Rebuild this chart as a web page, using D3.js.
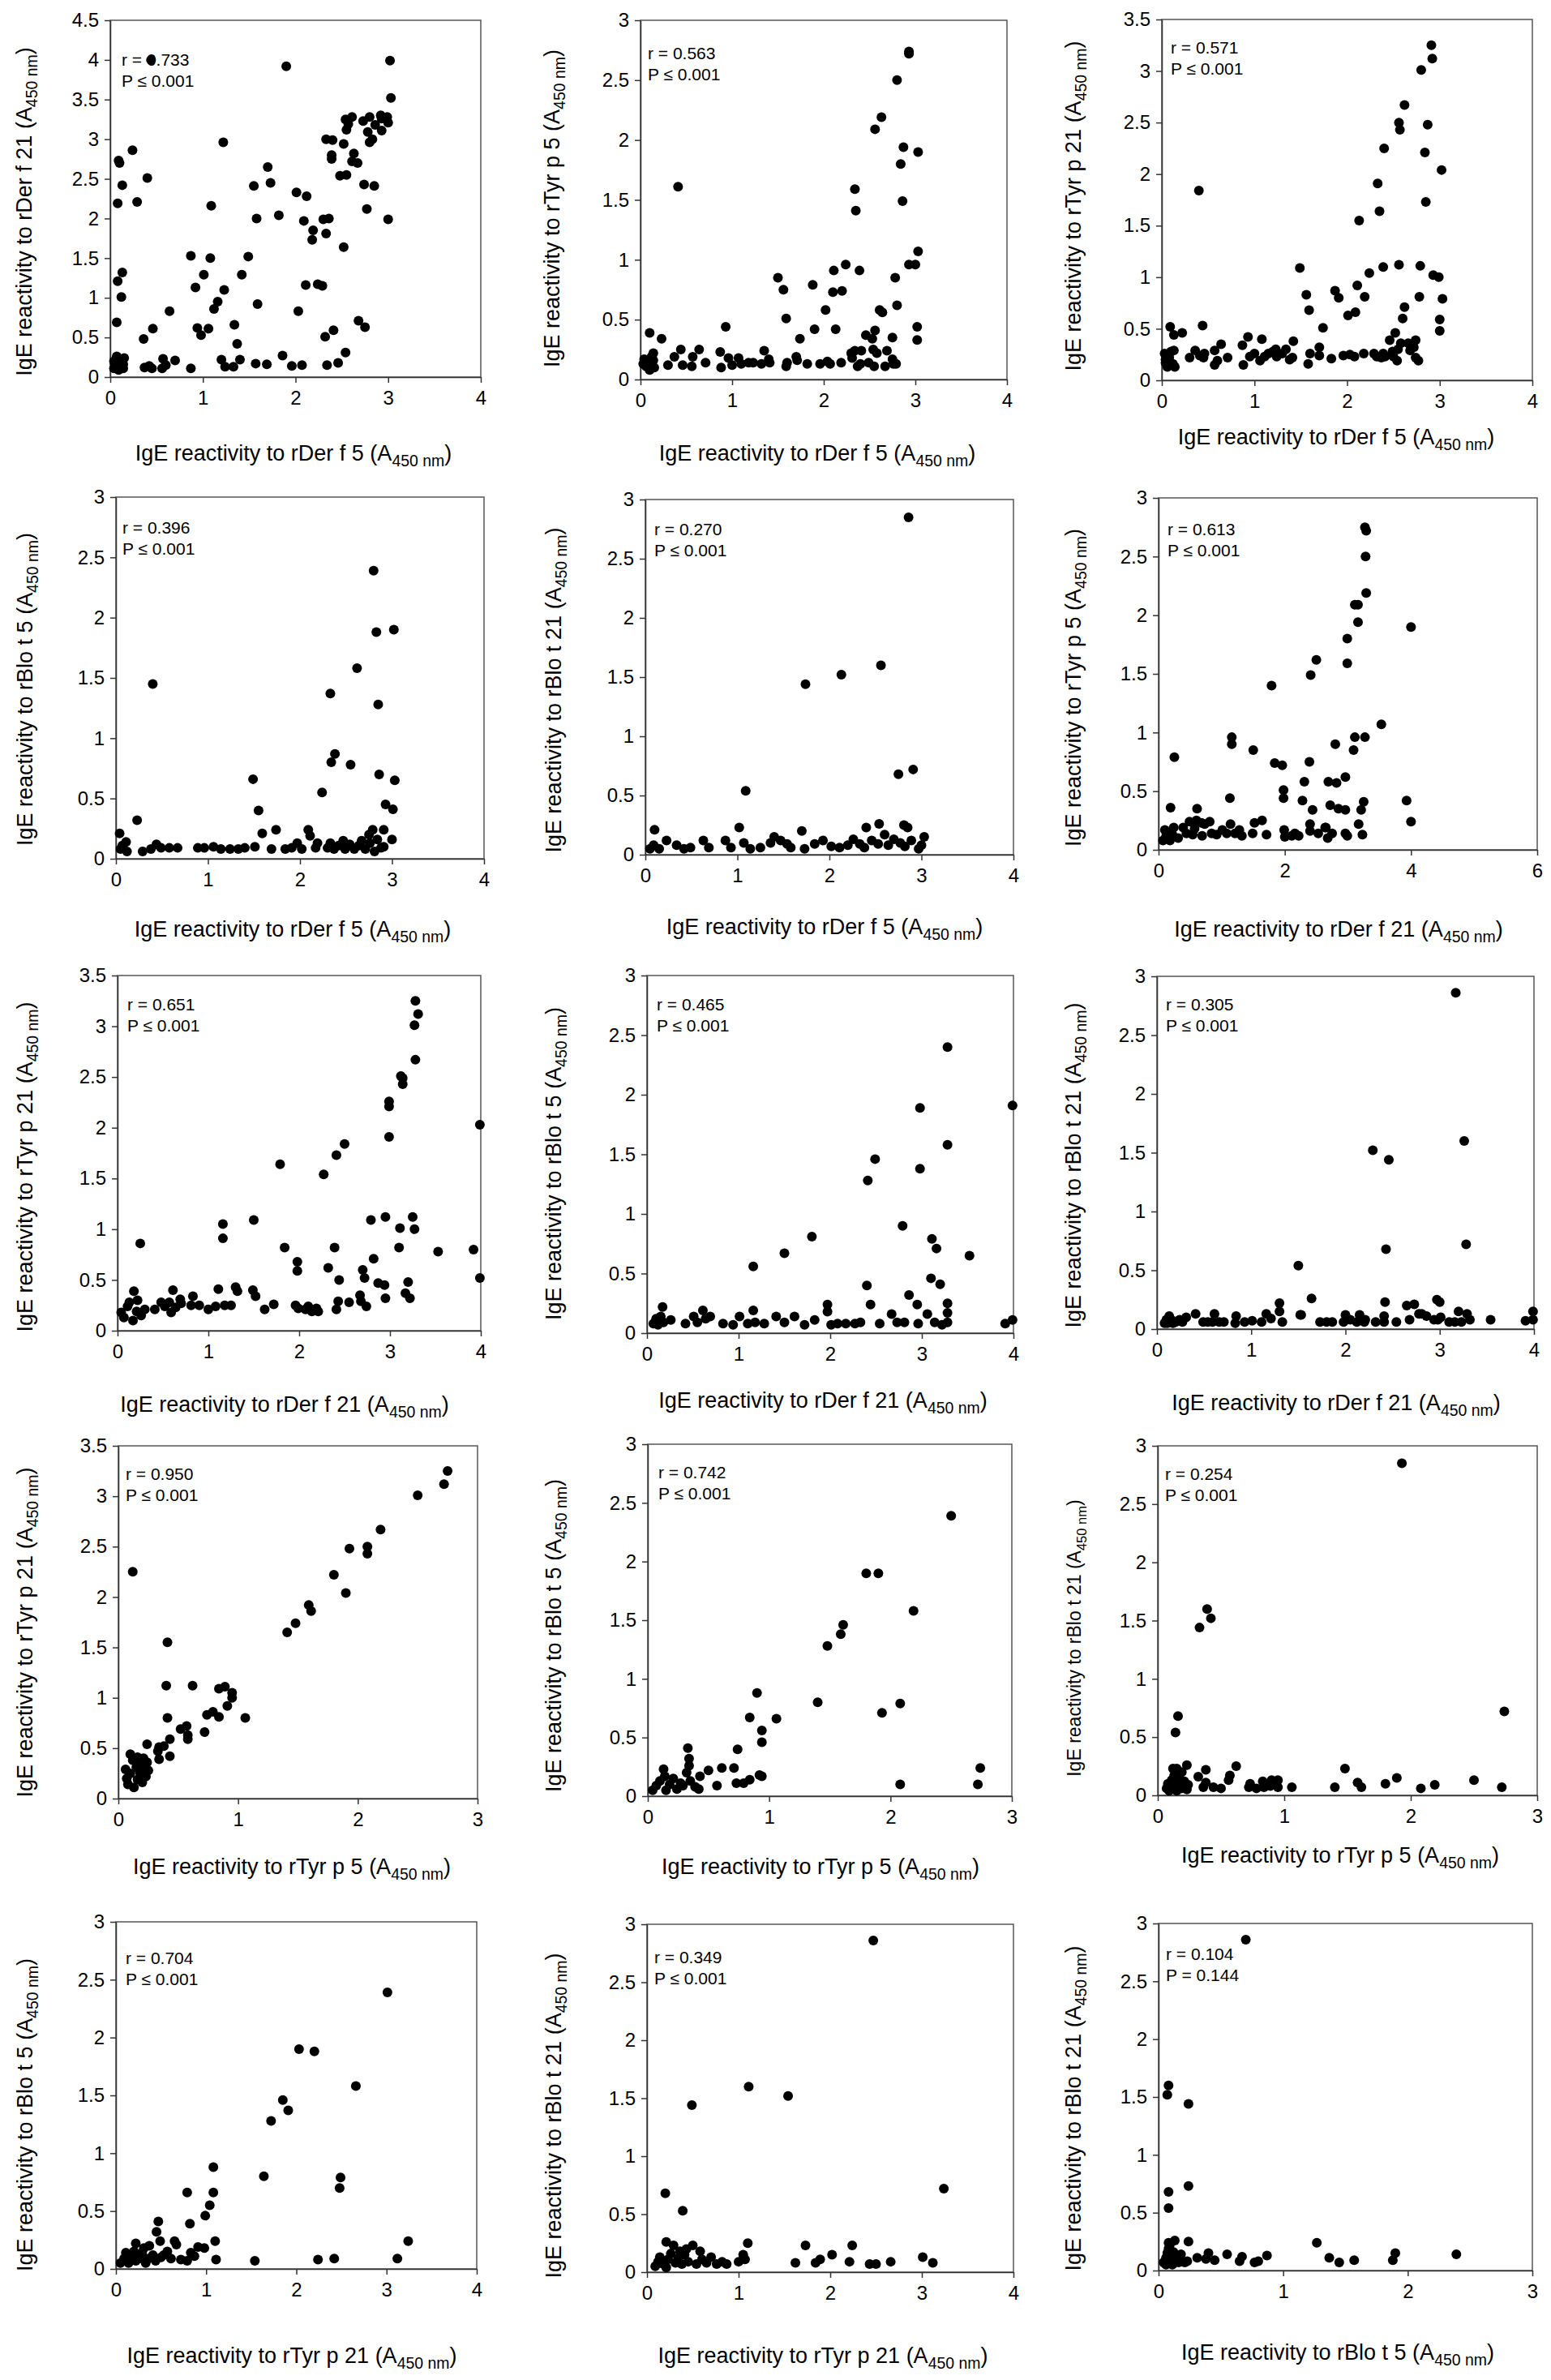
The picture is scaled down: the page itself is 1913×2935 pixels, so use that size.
<!DOCTYPE html>
<html>
<head>
<meta charset="utf-8">
<script src="https://d3js.org/d3.v7.min.js"></script>
<style>
  body { margin: 0; background: #fff; }
  svg { font-family: "Liberation Sans", Arial, sans-serif; }
  .axis path, .axis line { stroke: #333; stroke-width: 1.5; }
  .axis text { font-size: 24px; fill: #000; font-family: "Liberation Sans", Arial, sans-serif; }
  .frame { fill: none; stroke: #555; stroke-width: 1.5; }
  .dot { fill: #000; }
  .title { font-size: 27px; fill: #000; }
  .note { font-size: 21px; fill: #000; }
</style>
</head>
<body>
<svg width="1913" height="2935"></svg>
<script>
// ---- data: one list of [x, y] pairs per panel ----
var derF5_derF21 = [[0.09,2.73],[0.10,2.70],[0.24,2.86],[0.13,2.42],[0.40,2.51],[0.08,2.19],[0.29,2.21],[0.08,1.21],[0.13,1.32],[0.12,1.01],[0.07,0.69],[0.44,4.0],[1.22,2.96],[1.90,3.92],[3.02,3.99],[3.03,3.52],
  [2.54,3.25],[2.61,3.28],[2.57,3.19],[2.55,3.12],[2.73,3.23],[2.80,3.28],[2.78,3.09],[2.86,3.18],[2.92,3.30],[2.93,3.26],[2.99,3.28],[2.93,3.11],[3.00,3.21],[2.80,2.96],[2.83,3.00],[2.33,3.00],[2.40,2.99],[2.52,2.94],[2.39,2.80],[2.39,2.75],[2.63,2.82],[2.61,2.72],[2.67,2.70],[2.48,2.54],[2.55,2.55],[2.74,2.43],[2.85,2.41],[2.77,2.12],[3.00,1.99],
  [1.70,2.65],[1.73,2.45],[1.55,2.41],[1.09,2.16],[1.58,2.00],[1.82,2.04],[2.01,2.33],[2.12,2.28],[2.09,1.97],[2.19,1.85],[2.18,1.73],[2.30,1.99],[2.36,2.00],[2.33,1.81],[2.52,1.64],[0.87,1.53],[1.08,1.50],[1.49,1.52],[1.01,1.29],[1.42,1.29],[0.92,1.13],[1.23,1.10],[1.16,0.95],[1.12,0.86],[2.11,1.16],[2.24,1.17],[2.29,1.15],[1.59,0.92],[2.03,0.83],[0.64,0.83],[1.34,0.66],[0.94,0.62],[1.06,0.61],[0.98,0.53],[1.37,0.42],[0.46,0.61],[0.36,0.48],[2.68,0.71],[2.75,0.63],[2.41,0.59],[2.32,0.51],[2.54,0.31],[2.46,0.18],[2.34,0.15],
  [1.86,0.27],[1.96,0.14],[2.07,0.15],[1.69,0.16],[1.57,0.17],[1.40,0.22],[1.33,0.13],[1.24,0.13],[1.20,0.22],[0.87,0.11],[0.70,0.21],[0.60,0.15],[0.57,0.23],[0.56,0.11],[0.45,0.11],[0.42,0.14],[0.37,0.12],[0.07,0.26],[0.04,0.11],[0.05,0.16],[0.07,0.22],[0.11,0.12],[0.13,0.22],[0.14,0.16],[0.14,0.11],[0.09,0.09],[0.04,0.20],[0.15,0.24]];

var derF5_tyrP5 = [[0.41,1.61],[2.93,2.74],[2.93,2.72],[2.80,2.50],[2.63,2.19],[2.56,2.09],[2.87,1.94],[3.03,1.90],[2.84,1.80],[2.34,1.59],[2.35,1.41],[2.86,1.49],[3.03,1.07],[2.93,0.96],[3.00,0.96],[2.24,0.96],[2.39,0.91],[2.11,0.91],[2.10,0.73],[2.20,0.74],[1.50,0.85],[1.56,0.75],[1.88,0.79],[2.78,0.85],[2.80,0.62],[2.02,0.58],[2.61,0.58],[2.64,0.56],[1.59,0.51],[0.93,0.44],[1.90,0.42],[2.13,0.42],[3.02,0.44],[3.02,0.33],[0.10,0.39],[0.23,0.34],[1.74,0.34],[2.46,0.37],[2.56,0.41],[2.53,0.34],[2.75,0.35],
  [0.87,0.23],[0.44,0.25],[0.64,0.25],[1.35,0.24],[0.37,0.19],[0.57,0.19],[0.30,0.12],[0.46,0.12],[0.56,0.11],[0.71,0.14],[0.88,0.10],[0.96,0.18],[1.00,0.12],[1.07,0.18],[1.10,0.13],[1.18,0.14],[1.23,0.14],[1.32,0.13],[1.40,0.17],[1.41,0.14],[1.60,0.14],[1.59,0.11],[1.70,0.19],[1.71,0.16],[1.82,0.13],[1.96,0.13],[2.04,0.15],[2.07,0.13],[2.19,0.14],[2.30,0.22],[2.34,0.24],[2.41,0.24],[2.31,0.18],[2.37,0.11],[2.40,0.13],[2.49,0.14],[2.54,0.25],[2.58,0.22],[2.55,0.11],[2.69,0.24],[2.67,0.11],[2.75,0.17],[2.79,0.13],[2.76,0.13],
  [0.04,0.17],[0.06,0.11],[0.08,0.14],[0.12,0.19],[0.14,0.22],[0.15,0.10],[0.10,0.08],[0.03,0.13],[0.14,0.16]];

var derF5_tyrP21 = [[0.40,1.84],[2.91,3.25],[2.92,3.12],[2.80,3.01],[2.62,2.67],[2.56,2.50],[2.57,2.43],[2.87,2.48],[2.40,2.25],[2.84,2.21],[3.02,2.04],[2.33,1.91],[2.35,1.64],[2.85,1.73],[2.13,1.55],[1.49,1.09],[2.39,1.10],[2.56,1.12],[2.79,1.11],[2.24,1.04],[2.93,1.02],[2.99,1.00],[2.11,0.92],[1.87,0.87],[1.91,0.80],[2.19,0.81],[2.78,0.81],[3.03,0.79],[1.56,0.83],[1.59,0.68],[2.09,0.66],[2.01,0.63],[2.62,0.71],[2.60,0.60],[3.00,0.59],[3.00,0.48],[1.74,0.51],[0.09,0.52],[0.44,0.53],[0.22,0.46],[0.13,0.44],[0.93,0.42],[1.08,0.40],[1.42,0.38],[2.52,0.46],[2.46,0.39],[2.58,0.36],[2.66,0.36],[2.74,0.39],[0.87,0.34],[0.64,0.35],[1.70,0.32],
  [0.30,0.22],[0.36,0.29],[0.41,0.24],[0.46,0.26],[0.45,0.22],[0.57,0.29],[0.57,0.15],[0.60,0.19],[0.71,0.22],[0.88,0.15],[0.95,0.23],[1.00,0.26],[1.06,0.19],[1.11,0.23],[1.15,0.26],[1.20,0.28],[1.23,0.30],[1.24,0.23],[1.30,0.26],[1.34,0.30],[1.38,0.20],[1.41,0.22],[1.60,0.26],[1.58,0.16],[1.70,0.24],[1.83,0.21],[1.96,0.24],[2.03,0.25],[2.08,0.23],[2.18,0.26],[2.29,0.26],[2.32,0.23],[2.37,0.22],[2.39,0.26],[2.41,0.23],[2.49,0.28],[2.50,0.23],[2.54,0.19],[2.55,0.30],[2.69,0.31],[2.68,0.29],[2.72,0.32],[2.74,0.22],[2.77,0.19],[2.70,0.35],
  [0.03,0.26],[0.04,0.17],[0.06,0.13],[0.08,0.22],[0.10,0.28],[0.12,0.16],[0.13,0.29],[0.14,0.13],[0.04,0.20],[0.07,0.24]];

var derF5_bloT5 = [[0.40,1.45],[2.80,2.39],[2.83,1.88],[3.02,1.90],[2.62,1.58],[2.33,1.37],[2.85,1.28],[2.38,0.87],[2.34,0.80],[2.55,0.78],[2.86,0.70],[3.03,0.65],[1.49,0.66],[2.24,0.55],[1.55,0.40],[2.93,0.45],[3.01,0.41],[0.23,0.32],[0.04,0.21],[1.59,0.21],[1.74,0.24],[2.09,0.24],[2.11,0.19],[2.79,0.24],[2.91,0.24],[2.75,0.20],[3.00,0.16],[2.91,0.10],
  [0.05,0.08],[0.07,0.11],[0.11,0.14],[0.12,0.06],[0.29,0.06],[0.38,0.08],[0.44,0.12],[0.49,0.09],[0.58,0.09],[0.67,0.09],[0.89,0.09],[0.96,0.09],[1.06,0.10],[1.14,0.08],[1.24,0.08],[1.33,0.08],[1.40,0.09],[1.51,0.10],[1.69,0.08],[1.84,0.08],[1.91,0.09],[1.97,0.13],[2.02,0.08],[2.17,0.09],[2.19,0.13],[2.30,0.09],[2.33,0.13],[2.37,0.08],[2.42,0.11],[2.47,0.15],[2.49,0.08],[2.54,0.12],[2.59,0.08],[2.64,0.11],[2.67,0.15],[2.71,0.08],[2.76,0.13],[2.81,0.06],[2.84,0.16],[2.88,0.09]];

var derF5_bloT21 = [[2.86,2.85],[1.74,1.44],[2.13,1.52],[2.56,1.60],[2.91,0.72],[2.75,0.68],[1.09,0.54],[0.10,0.21],[1.02,0.23],[1.70,0.20],[2.40,0.23],[2.54,0.26],[2.81,0.25],[2.85,0.23],[3.03,0.15],
  [0.05,0.05],[0.09,0.08],[0.15,0.05],[0.23,0.12],[0.34,0.08],[0.42,0.05],[0.49,0.06],[0.63,0.12],[0.69,0.06],[0.87,0.12],[0.93,0.06],[1.07,0.10],[1.14,0.05],[1.25,0.06],[1.36,0.10],[1.40,0.15],[1.47,0.12],[1.54,0.09],[1.58,0.06],[1.73,0.05],[1.84,0.09],[1.93,0.12],[2.02,0.07],[2.11,0.06],[2.20,0.08],[2.26,0.13],[2.33,0.09],[2.38,0.06],[2.46,0.12],[2.53,0.09],[2.60,0.17],[2.64,0.08],[2.70,0.13],[2.77,0.10],[2.82,0.07],[2.89,0.12],[3.00,0.08],[2.97,0.05]];

var derF21_tyrP5 = [[3.27,2.75],[3.29,2.72],[3.28,2.50],[3.29,2.19],[3.11,2.09],[3.16,2.09],[3.16,1.94],[4.00,1.90],[2.99,1.80],[2.50,1.62],[2.99,1.59],[2.41,1.49],[1.79,1.40],[3.53,1.07],[1.16,0.96],[1.16,0.90],[3.11,0.96],[3.27,0.96],[2.80,0.90],[3.09,0.85],[1.50,0.85],[0.25,0.79],[1.84,0.74],[1.96,0.72],[2.39,0.75],[2.96,0.62],[2.31,0.58],[2.69,0.58],[2.82,0.57],[1.98,0.51],[1.13,0.44],[1.98,0.44],[2.28,0.42],[3.93,0.42],[3.25,0.41],[0.19,0.36],[0.61,0.35],[2.72,0.38],[2.44,0.34],[2.85,0.35],[2.96,0.34],[3.21,0.34],[4.00,0.24],[1.52,0.23],[1.64,0.25],[0.81,0.24],[0.49,0.24],[0.60,0.25],[0.68,0.23],[2.40,0.22],[2.64,0.19],[3.17,0.22],[1.14,0.22],
  [0.07,0.08],[0.10,0.17],[0.12,0.12],[0.15,0.14],[0.18,0.08],[0.22,0.13],[0.24,0.19],[0.31,0.10],[0.39,0.19],[0.44,0.14],[0.54,0.13],[0.57,0.18],[0.69,0.12],[0.73,0.22],[0.84,0.14],[0.92,0.13],[1.01,0.17],[1.08,0.14],[1.21,0.14],[1.28,0.17],[1.32,0.12],[1.49,0.14],[1.71,0.13],[1.99,0.17],[2.00,0.11],[2.11,0.12],[2.16,0.14],[2.22,0.12],[2.40,0.16],[2.53,0.14],[2.65,0.19],[2.68,0.10],[2.75,0.14],[2.96,0.14],[2.99,0.12],[3.23,0.13]];

var derF21_tyrP21 = [[3.28,3.25],[3.31,3.12],[3.27,3.01],[3.28,2.67],[3.12,2.51],[3.14,2.49],[3.14,2.43],[2.99,2.26],[2.99,2.21],[2.99,1.91],[3.99,2.03],[2.50,1.84],[2.41,1.73],[1.79,1.64],[2.27,1.54],[1.50,1.09],[2.79,1.09],[2.95,1.12],[3.25,1.12],[1.16,1.05],[1.16,0.91],[3.11,1.01],[3.27,1.00],[0.25,0.86],[1.84,0.82],[2.39,0.82],[3.10,0.82],[3.53,0.78],[3.92,0.80],[2.82,0.71],[1.98,0.68],[1.98,0.59],[2.32,0.62],[2.70,0.60],[2.72,0.52],[2.44,0.50],[3.99,0.52],[2.87,0.47],[2.94,0.45],[3.20,0.48],[1.11,0.41],[1.30,0.43],[1.32,0.39],[1.49,0.40],[1.52,0.34],[0.18,0.39],[0.61,0.40],[0.83,0.34],[2.95,0.32],[3.17,0.37],[3.22,0.32],[2.67,0.35],[2.43,0.29],[2.55,0.28],[2.68,0.29],[2.74,0.24],[2.41,0.21],
  [0.04,0.18],[0.07,0.13],[0.11,0.24],[0.13,0.28],[0.17,0.10],[0.21,0.19],[0.22,0.30],[0.26,0.15],[0.30,0.21],[0.41,0.21],[0.48,0.28],[0.52,0.24],[0.57,0.28],[0.59,0.18],[0.64,0.23],[0.69,0.31],[0.70,0.27],[0.81,0.25],[0.90,0.25],[1.00,0.21],[1.08,0.24],[1.18,0.25],[1.25,0.25],[1.62,0.21],[1.72,0.26],[1.96,0.25],[1.99,0.22],[2.07,0.21],[2.14,0.19],[2.19,0.22],[2.21,0.19],[2.10,0.24]];

var derF21_bloT5 = [[3.28,2.40],[3.99,1.91],[2.98,1.89],[3.28,1.58],[2.49,1.46],[2.98,1.38],[2.41,1.28],[2.79,0.90],[3.11,0.79],[3.16,0.71],[1.80,0.81],[1.50,0.67],[3.52,0.65],[1.16,0.56],[3.10,0.46],[3.20,0.41],[2.40,0.40],[2.86,0.32],[2.95,0.24],[2.44,0.24],[3.28,0.25],[3.28,0.17],[1.97,0.24],[1.97,0.18],[1.16,0.19],[0.17,0.22],
  [0.07,0.08],[0.10,0.12],[0.12,0.07],[0.15,0.14],[0.18,0.09],[0.26,0.11],[0.42,0.08],[0.51,0.14],[0.55,0.09],[0.61,0.19],[0.64,0.12],[0.69,0.14],[0.83,0.08],[0.94,0.07],[1.01,0.14],[1.10,0.08],[1.18,0.09],[1.28,0.08],[1.41,0.14],[1.50,0.09],[1.61,0.14],[1.72,0.07],[1.83,0.11],[2.01,0.07],[2.08,0.08],[2.17,0.08],[2.27,0.08],[2.33,0.09],[2.54,0.08],[2.67,0.16],[2.73,0.09],[2.81,0.09],[2.96,0.08],[3.06,0.16],[3.14,0.09],[3.22,0.07],[3.28,0.09],[3.91,0.08],[3.99,0.11]];

var derF21_bloT21 = [[3.17,2.86],[3.26,1.60],[2.29,1.52],[2.46,1.44],[2.43,0.68],[3.28,0.72],[1.50,0.54],[1.64,0.26],[1.30,0.22],[1.30,0.15],[2.42,0.23],[2.65,0.20],[2.73,0.21],[2.97,0.25],[3.00,0.23],[3.20,0.15],[3.29,0.13],[3.99,0.15],[1.52,0.12],[1.16,0.13],[0.41,0.13],[0.61,0.13],[0.31,0.10],[0.13,0.11],
  [0.08,0.05],[0.10,0.08],[0.11,0.05],[0.15,0.08],[0.17,0.05],[0.20,0.06],[0.24,0.08],[0.27,0.06],[0.49,0.06],[0.54,0.06],[0.59,0.06],[0.66,0.06],[0.71,0.06],[0.83,0.05],[0.84,0.11],[0.93,0.06],[1.01,0.07],[1.11,0.06],[1.21,0.09],[1.33,0.06],[1.53,0.12],[1.73,0.06],[1.80,0.06],[1.86,0.06],[1.98,0.06],[2.00,0.12],[2.05,0.08],[2.12,0.06],[2.15,0.12],[2.20,0.06],[2.21,0.08],[2.32,0.06],[2.41,0.06],[2.41,0.11],[2.54,0.06],[2.68,0.08],[2.78,0.13],[2.81,0.13],[2.86,0.11],[2.94,0.08],[2.98,0.08],[3.01,0.10],[3.10,0.06],[3.16,0.06],[3.23,0.06],[3.32,0.08],[3.54,0.08],[3.91,0.07],[3.99,0.08]];

var tyrP5_tyrP21 = [[2.75,3.25],[2.72,3.12],[2.50,3.01],[2.19,2.67],[1.93,2.48],[2.08,2.50],[2.08,2.43],[1.80,2.22],[1.90,2.04],[1.59,1.92],[1.61,1.86],[1.48,1.74],[1.41,1.65],[0.12,2.25],[0.41,1.55],[0.40,1.12],[0.62,1.12],[0.84,1.09],[0.89,1.11],[0.95,1.05],[0.95,1.00],[0.91,0.92],[0.79,0.86],[0.74,0.83],[0.84,0.81],[1.06,0.80],[0.41,0.80],[0.57,0.72],[0.52,0.69],[0.72,0.66],[0.58,0.63],[0.58,0.59],[0.43,0.59],[0.24,0.54],[0.34,0.51],[0.38,0.52],[0.33,0.47],[0.34,0.39],[0.43,0.42],
  [0.07,0.20],[0.08,0.14],[0.10,0.25],[0.10,0.44],[0.12,0.38],[0.13,0.11],[0.15,0.31],[0.16,0.19],[0.17,0.35],[0.18,0.26],[0.20,0.16],[0.21,0.40],[0.22,0.32],[0.23,0.22],[0.24,0.36],[0.25,0.28],[0.06,0.29],[0.16,0.41]];

var tyrP5_bloT5 = [[2.50,2.39],[1.80,1.90],[1.90,1.90],[2.19,1.58],[1.61,1.46],[1.59,1.38],[1.48,1.28],[0.90,0.88],[1.40,0.80],[2.08,0.79],[1.93,0.71],[0.84,0.67],[1.06,0.66],[0.94,0.56],[0.94,0.46],[0.74,0.40],[0.33,0.41],[0.34,0.32],[2.74,0.24],[2.08,0.10],[2.72,0.10],[0.61,0.24],[0.71,0.24],[0.50,0.22],[0.34,0.26],[0.92,0.18],[0.94,0.17],[0.84,0.14],[0.43,0.17],[0.57,0.09],[0.73,0.11],[0.79,0.11],
  [0.04,0.05],[0.07,0.09],[0.10,0.13],[0.13,0.23],[0.14,0.17],[0.15,0.05],[0.18,0.10],[0.21,0.15],[0.24,0.06],[0.27,0.11],[0.29,0.09],[0.32,0.20],[0.35,0.13],[0.39,0.08],[0.42,0.06]];

var tyrP5_bloT21 = [[1.93,2.85],[0.39,1.60],[0.42,1.52],[0.33,1.44],[0.16,0.68],[0.14,0.54],[2.74,0.72],[1.48,0.23],[1.89,0.15],[2.50,0.13],[1.80,0.10],[2.19,0.09],[2.08,0.06],[2.72,0.07],[1.40,0.07],[1.06,0.07],[1.58,0.11],[1.61,0.07],[0.62,0.25],[0.23,0.26],[0.38,0.22],[0.57,0.17],[0.56,0.13],[0.32,0.16],[0.12,0.23],[0.15,0.23],[0.19,0.20],[0.73,0.10],[0.72,0.07],[0.83,0.12],[0.90,0.13],[0.95,0.13],[0.95,0.07],[0.84,0.07],[0.78,0.06],[0.89,0.08],[0.50,0.06],[0.44,0.07],[0.36,0.07],[0.38,0.11],
  [0.07,0.06],[0.08,0.10],[0.09,0.04],[0.11,0.13],[0.12,0.07],[0.13,0.17],[0.15,0.04],[0.16,0.11],[0.17,0.15],[0.19,0.06],[0.20,0.10],[0.21,0.12],[0.23,0.05],[0.24,0.09]];

var tyrP21_bloT5 = [[3.01,2.39],[2.03,1.90],[2.20,1.88],[2.66,1.58],[1.85,1.46],[1.91,1.37],[1.72,1.28],[1.08,0.88],[1.64,0.80],[2.49,0.79],[2.48,0.70],[0.79,0.66],[1.08,0.66],[1.04,0.55],[0.99,0.46],[0.82,0.39],[0.47,0.41],[0.45,0.32],[0.49,0.24],[0.65,0.24],[0.67,0.21],[1.10,0.24],[3.24,0.24],[3.12,0.09],[2.42,0.09],[2.24,0.08],[1.54,0.07],[1.11,0.08],[0.91,0.19],[0.98,0.18],[0.22,0.22],[0.37,0.20],[0.57,0.15],[0.83,0.14],[0.87,0.11],[0.72,0.08],[0.79,0.07],[0.61,0.09],
  [0.05,0.05],[0.09,0.09],[0.11,0.14],[0.14,0.05],[0.16,0.11],[0.20,0.15],[0.22,0.07],[0.26,0.09],[0.29,0.14],[0.31,0.18],[0.33,0.05],[0.36,0.09],[0.41,0.12],[0.44,0.07],[0.50,0.10],[0.53,0.12]];

var tyrP21_bloT21 = [[2.47,2.86],[1.11,1.60],[1.54,1.52],[0.49,1.44],[0.20,0.68],[0.39,0.53],[3.24,0.72],[1.10,0.25],[1.73,0.23],[2.24,0.23],[2.02,0.15],[1.89,0.11],[1.84,0.08],[1.62,0.08],[2.21,0.09],[2.66,0.09],[2.43,0.07],[2.50,0.07],[3.01,0.13],[3.12,0.08],[0.21,0.26],[0.29,0.23],[0.50,0.23],[0.58,0.18],[0.70,0.13],[1.05,0.15],[1.07,0.11],[1.00,0.09],[0.82,0.09],[0.87,0.07],[0.76,0.07],[0.65,0.08],
  [0.09,0.05],[0.12,0.09],[0.14,0.13],[0.18,0.07],[0.21,0.04],[0.23,0.11],[0.26,0.16],[0.31,0.08],[0.34,0.12],[0.38,0.07],[0.41,0.15],[0.45,0.09],[0.54,0.07],[0.60,0.11],[0.36,0.18],[0.43,0.20]];

var bloT5_bloT21 = [[0.70,2.86],[0.08,1.60],[0.07,1.52],[0.24,1.44],[0.08,0.68],[0.24,0.73],[0.08,0.54],[1.27,0.24],[0.24,0.25],[0.13,0.26],[0.08,0.24],[0.40,0.15],[0.55,0.14],[0.67,0.12],[0.87,0.13],[1.90,0.15],[2.39,0.14],[1.37,0.11],[0.31,0.11],[0.38,0.10],[0.45,0.09],[0.65,0.08],[0.77,0.07],[0.80,0.08],[1.45,0.07],[1.57,0.09],[1.88,0.09],[0.18,0.14],[0.23,0.08],[0.21,0.07],
  [0.04,0.07],[0.06,0.11],[0.06,0.05],[0.07,0.15],[0.08,0.19],[0.09,0.09],[0.10,0.12],[0.11,0.05],[0.12,0.16],[0.13,0.08],[0.14,0.11],[0.16,0.07],[0.17,0.10],[0.09,0.22]];

var panelPoints = [derF5_derF21, derF5_tyrP5, derF5_tyrP21, derF5_bloT5, derF5_bloT21, derF21_tyrP5,
                   derF21_tyrP21, derF21_bloT5, derF21_bloT21, tyrP5_tyrP21, tyrP5_bloT5, tyrP5_bloT21,
                   tyrP21_bloT5, tyrP21_bloT21, bloT5_bloT21];
var xAllergens = ["rDer f 5", "rDer f 5", "rDer f 5", "rDer f 5", "rDer f 5", "rDer f 21",
                  "rDer f 21", "rDer f 21", "rDer f 21", "rTyr p 5", "rTyr p 5", "rTyr p 5",
                  "rTyr p 21", "rTyr p 21", "rBlo t 5"];
var yAllergens = ["rDer f 21", "rTyr p 5", "rTyr p 21", "rBlo t 5", "rBlo t 21", "rTyr p 5",
                  "rTyr p 21", "rBlo t 5", "rBlo t 21", "rTyr p 21", "rBlo t 5", "rBlo t 21",
                  "rBlo t 5", "rBlo t 21", "rBlo t 21"];
var rValues = ["0.733", "0.563", "0.571", "0.396", "0.270", "0.613", "0.651", "0.465", "0.305",
               "0.950", "0.742", "0.254", "0.704", "0.349", "0.104"];
var pValues = ["P \u2264 0.001", "P \u2264 0.001", "P \u2264 0.001", "P \u2264 0.001", "P \u2264 0.001",
               "P \u2264 0.001", "P \u2264 0.001", "P \u2264 0.001", "P \u2264 0.001", "P \u2264 0.001",
               "P \u2264 0.001", "P \u2264 0.001", "P \u2264 0.001", "P \u2264 0.001", "P = 0.144"];
// axis ranges and tick steps
var xMax  = [4, 4, 4, 4, 4, 6, 4, 4, 4, 3, 3, 3, 4, 4, 3];
var xStep = [1, 1, 1, 1, 1, 2, 1, 1, 1, 1, 1, 1, 1, 1, 1];
var yMax  = [4.5, 3, 3.5, 3, 3, 3, 3.5, 3, 3, 3.5, 3, 3, 3, 3, 3];
var yStep = 0.5;

// ---- layout (pixels): plot box, title anchors, note anchor ----
// [left, right, top, bottom, xTitleX, xTitleY, yTitleX, yTitleY, noteX, noteY]
var boxes = [
  [136, 593, 25, 465,   362, 568,   39, 261,   150, 81],
  [790, 1242, 25, 468,  1008, 568,  690, 257,  799, 73],
  [1433, 1890, 24, 469, 1648, 548,  1333, 254, 1444, 66],
  [143, 597, 613, 1059, 361, 1155,  40, 850,   151, 658],
  [796, 1250, 616, 1054, 1017, 1152, 692, 851, 807, 660],
  [1429, 1896, 614, 1048, 1651, 1155, 1333, 848, 1440, 660],
  [145, 593, 1203, 1641, 351, 1741, 40, 1439,  157, 1246],
  [798, 1250, 1203, 1644, 1015, 1736, 692, 1435, 810, 1246],
  [1427, 1892, 1204, 1639, 1648, 1739, 1333, 1437, 1438, 1246],
  [146, 589, 1783, 2218, 360, 2311, 40, 2013,  155, 1825],
  [799, 1248, 1781, 2215, 1012, 2311, 692, 2017, 812, 1823],
  [1428, 1896, 1783, 2214, 1653, 2297, 1333, 2020, 1437, 1825],
  [143, 588, 2370, 2798, 360, 2914, 40, 2608,  155, 2422],
  [798, 1250, 2373, 2802, 1015, 2914, 692, 2609, 807, 2421],
  [1429, 1890, 2372, 2800, 1650, 2910, 1333, 2600, 1438, 2417]
];

var svg = d3.select("svg");
svg.append("rect").attr("width", 1913).attr("height", 2935).attr("fill", "#fff");

// "IgE reactivity to X (A450 nm)" with subscript
function addTitle(text, name) {
  text.append("tspan").text("IgE reactivity to " + name + " (A");
  text.append("tspan").attr("font-size", "0.72em").attr("dy", 7).text("450 nm");
  text.append("tspan").attr("dy", -7).text(")");
}

panelPoints.forEach(function(points, i) {
  var b = boxes[i];
  var x = d3.scaleLinear().domain([0, xMax[i]]).range([b[0], b[1]]),
      y = d3.scaleLinear().domain([0, yMax[i]]).range([b[3], b[2]]);

  var g = svg.append("g").attr("class", "panel");

  // plot frame (top / right sides)
  g.append("rect")
      .attr("class", "frame")
      .attr("x", b[0]).attr("y", b[2])
      .attr("width", b[1] - b[0]).attr("height", b[3] - b[2]);

  g.append("g")
      .attr("class", "axis")
      .attr("transform", "translate(0," + b[3] + ")")
      .call(d3.axisBottom(x)
        .tickValues(d3.range(0, xMax[i] + xStep[i] / 2, xStep[i]))
        .tickSize(7).tickSizeOuter(0).tickPadding(10)
        .tickFormat(d3.format("~g")));

  g.append("g")
      .attr("class", "axis")
      .attr("transform", "translate(" + b[0] + ",0)")
      .call(d3.axisLeft(y)
        .tickValues(d3.range(0, yMax[i] + yStep / 2, yStep))
        .tickSize(7).tickSizeOuter(0).tickPadding(7)
        .tickFormat(d3.format("~g")));

  g.selectAll(".dot")
      .data(points)
    .enter().append("circle")
      .attr("class", "dot")
      .attr("cx", function(d) { return x(d[0]); })
      .attr("cy", function(d) { return y(d[1]); })
      .attr("r", 6);

  // correlation note
  g.append("text").attr("class", "note")
      .attr("x", b[8]).attr("y", b[9])
      .text("r = " + rValues[i]);
  g.append("text").attr("class", "note")
      .attr("x", b[8]).attr("y", b[9] + 26)
      .text(pValues[i]);

  // axis titles
  g.append("text").attr("class", "title")
      .attr("x", b[4]).attr("y", b[5])
      .attr("text-anchor", "middle")
      .call(addTitle, xAllergens[i]);

  var yt = g.append("text").attr("class", "title")
      .attr("transform", "translate(" + b[6] + "," + b[7] + ") rotate(-90)")
      .attr("text-anchor", "middle")
      .call(addTitle, yAllergens[i]);
  if (i === 11) yt.style("font-size", "23px");   // this panel uses a smaller title
});
</script>
</body>
</html>
